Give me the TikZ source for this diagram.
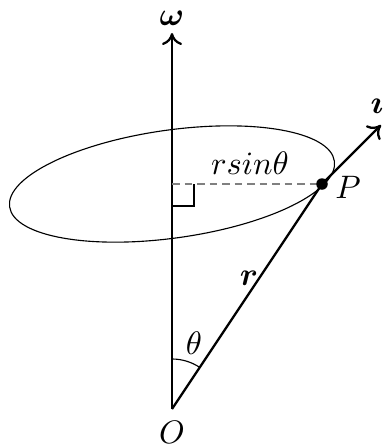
\documentclass[tikz,border=0pt]{standalone}
\usepackage{graphicx}
\usepackage{amsmath}
\usepackage{bm}
\usetikzlibrary{arrows.meta}
\newcommand{\bigt}[1]{\scalebox{1.3}{#1}}
\begin{document}
\begin{tikzpicture}[x=0.4pt,y=-0.4pt,
  vec/.style={line width=0.9pt,-{Computer Modern Rightarrow[length=4.8pt,width=8pt]}},
  seg/.style={line width=0.9pt},
  thinline/.style={line width=0.45pt},
  dashline/.style={gray,line width=0.6pt,dash pattern=on 3pt off 2pt},
  lbl/.style={inner sep=0pt}]
\useasboundingbox (0,0) rectangle (384,447);
\coordinate (O) at (172,409);
\coordinate (Top) at (172,33);
\coordinate (C) at (172,184);
\coordinate (P) at (322,184);
\coordinate (V) at (381,125);
\coordinate (Ra) at (194,184);
\coordinate (Rb) at (194,206);
\coordinate (Rc) at (172,206);
% ellipse
\draw[thinline,rotate around={8:(C)}] (C) ellipse [x radius=65.6pt, y radius=21.6pt];
% axis
\draw[vec] (O) -- (Top);
% radius line
\draw[dashline] (C) -- (P);
% right angle
\draw[thinline] (Ra) -- (Rb) -- (Rc);
% r vector
\draw[seg] (O) -- (P);
\draw[vec] (P) -- (V);
\fill (P) circle (2.3pt);
% theta arc
\draw[thinline] (172,359) arc[start angle=90,end angle=56.3,radius=20pt];
% labels
\node[lbl] (lw) at (172,18) {\bigt{$\bm{\omega}$}};
\node[lbl] (lO) at (172,432) {\bigt{$O$}};
\node[lbl] (lP) at (348,187) {\bigt{$P$}};
\node[lbl] (li) at (377,106) {\bigt{$\bm{\imath}$}};
\node[lbl] (lt) at (194,343) {\bigt{$\theta$}};
\node[lbl] (lr) at (249,278) {\bigt{$\bm{r}$}};
\node[lbl] (lrs) at (250,163) {\bigt{$r sin\theta$}};
\end{tikzpicture}
\end{document}
